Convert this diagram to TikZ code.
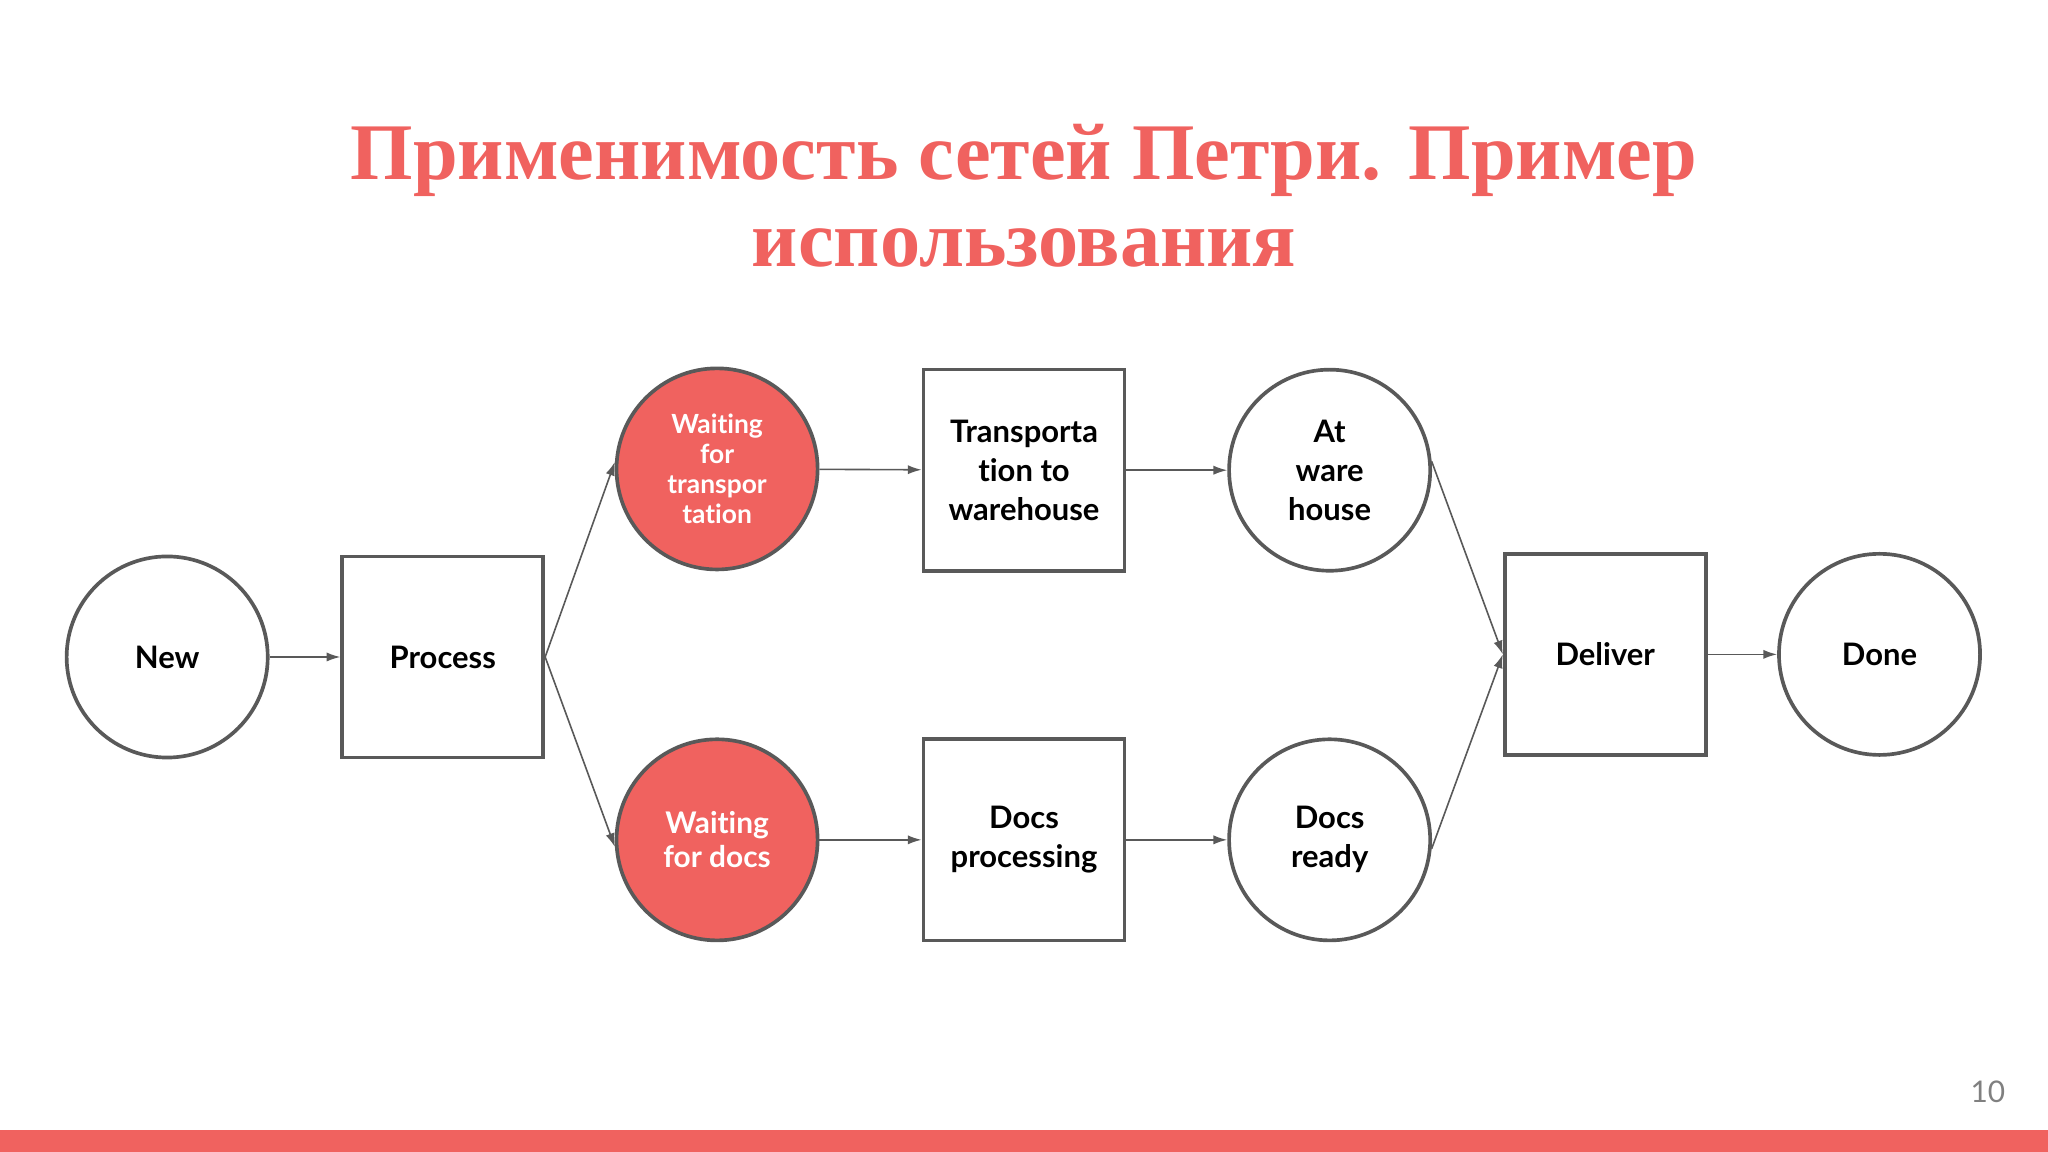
\documentclass[tikz,border=0pt]{standalone}
\usepackage{fontspec}
\setmainfont{Lato}[Ligatures=NoCommon]
\newfontfamily\titlefont{Liberation Serif}
\usetikzlibrary{arrows.meta}
\definecolor{salmon}{HTML}{F0625F}
\definecolor{edge}{HTML}{595959}
\begin{document}
\begin{tikzpicture}[x=0.02cm,y=-0.02cm,
  place/.style={circle,draw=edge,line width=1.6pt,minimum size=3.08cm,inner sep=0pt,align=center,font=\bfseries\fontsize{13.5}{17}\selectfont},
  redplace/.style={place,fill=salmon,text=white,font=\bfseries\fontsize{11.5}{13}\selectfont},
  trans/.style={rectangle,draw=edge,line width=1.6pt,minimum size=3.08cm,inner sep=0pt,align=center,font=\bfseries\fontsize{13.5}{17}\selectfont},
  arc/.style={draw=edge,line width=0.7pt,-{Latex[length=6pt,width=4pt]}}]
\useasboundingbox (0,0) rectangle (1568,882);
\fill[salmon] (0,865) rectangle (1568,882);
\node[text=salmon,font=\titlefont\bfseries\fontsize{35}{38}\selectfont,align=center] (title) at (784,150) {Применимость сетей Петри. Пример\\использования};
\node[text=gray,font=\fontsize{13}{15}\selectfont] (pg) at (1522,836) {10};
\node[place] (new) at (128,503) {New};
\node[trans] (proc) at (339,503) {Process};
\node[redplace] (wt) at (549,359) {Waiting\\for\\transpor\\tation};
\node[trans] (tt) at (784,360) {Transporta\\tion to\\warehouse};
\node[place] (aw) at (1018,360) {At\\ware\\house};
\node[redplace,font=\bfseries\fontsize{13}{15}\selectfont] (wd) at (549,643) {Waiting\\for docs};
\node[trans] (dp) at (784,643) {Docs\\processing};
\node[place] (dr) at (1018,643) {Docs\\ready};
\node[trans] (del) at (1229,501) {Deliver};
\node[place] (done) at (1439,501) {Done};
\draw[arc] (new) -- (proc);
\draw[arc] (proc.east) -- (wt.176);
\draw[arc] (proc.east) -- (wd.184);
\draw[arc] (wt) -- (tt);
\draw[arc] (tt) -- (aw);
\draw[arc] (wd) -- (dp);
\draw[arc] (dp) -- (dr);
\draw[arc] (aw.5) -- (del.west);
\draw[arc] (dr.-5) -- (del.west);
\draw[arc] (del) -- (done);
\end{tikzpicture}
\end{document}
